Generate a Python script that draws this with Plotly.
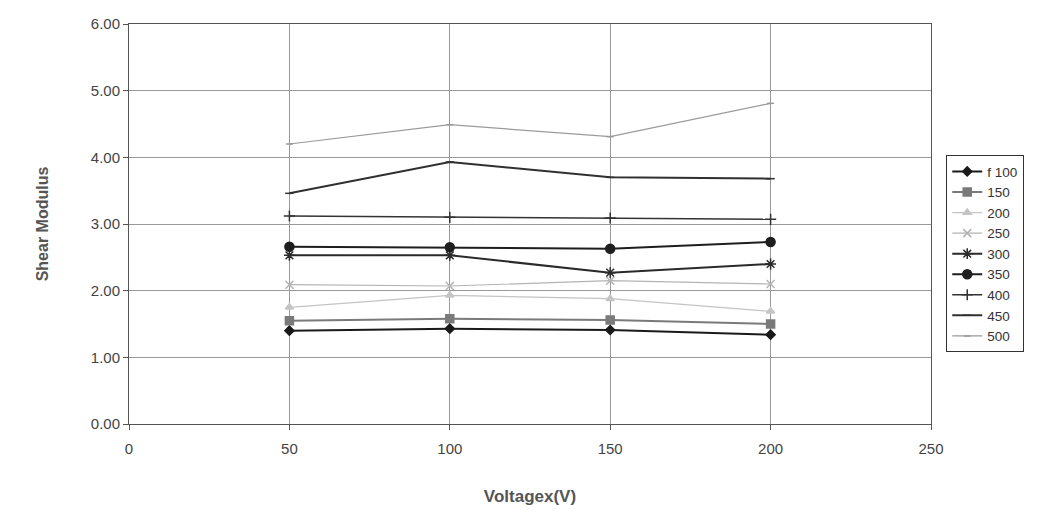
import plotly.graph_objects as go

voltage = [50, 100, 150, 200]
series_names = ["f 100", "150", "200", "250", "300", "350", "400", "450", "500"]
s100 = [1.40, 1.43, 1.41, 1.34]
s150 = [1.55, 1.58, 1.56, 1.50]
s200 = [1.75, 1.93, 1.88, 1.69]
s250 = [2.09, 2.07, 2.15, 2.10]
s300 = [2.53, 2.53, 2.27, 2.40]
s350 = [2.66, 2.65, 2.63, 2.73]
s400 = [3.12, 3.10, 3.09, 3.07]
s450 = [3.46, 3.93, 3.70, 3.68]
s500 = [4.20, 4.49, 4.31, 4.81]
values = [s100, s150, s200, s250, s300, s350, s400, s450, s500]

styles = [
    dict(color="#1a1a1a", symbol="diamond", size=7, width=2),
    dict(color="#7a7a7a", symbol="square", size=8, width=2),
    dict(color="#c4c4c4", symbol="triangle-up", size=7, width=1.2),
    dict(color="#b4b4b4", symbol="x-thin-open", size=8, width=1.2),
    dict(color="#2a2a2a", symbol="asterisk-open", size=9, width=2),
    dict(color="#1e1e1e", symbol="circle", size=9, width=2),
    dict(color="#333333", symbol="cross-thin-open", size=8, width=1.5),
    dict(color="#303030", symbol="line-ew-open", size=6, width=2),
    dict(color="#9a9a9a", symbol="line-ew-open", size=5, width=1.2),
]

fig = go.Figure()
for name, vals, st in zip(series_names, values, styles):
    fig.add_trace(go.Scatter(
        x=voltage, y=vals, name=name, mode="lines+markers",
        line=dict(color=st["color"], width=st["width"]),
        marker=dict(symbol=st["symbol"], size=st["size"], color=st["color"],
                    line=dict(color=st["color"], width=1.5)),
    ))

fig.update_layout(
    width=1041, height=524,
    margin=dict(l=129, r=110, t=24, b=100),
    paper_bgcolor="white", plot_bgcolor="white",
    font=dict(family="Liberation Sans, Arial, sans-serif", size=15, color="#444444"),
    showlegend=True,
    legend=dict(
        x=1.019, y=0.672, xanchor="left", yanchor="top",
        bordercolor="#333333", borderwidth=1, bgcolor="white",
        font=dict(size=13.5, color="#333333"),
        tracegroupgap=0, itemwidth=30,
    ),
    xaxis=dict(
        range=[0, 250], tickvals=[0, 50, 100, 150, 200, 250],
        showgrid=True, gridcolor="#999999", gridwidth=1,
        showline=True, linecolor="#555555", linewidth=1, mirror=True,
        ticks="outside", ticklen=5, tickcolor="#555555",
        ticklabelstandoff=6, tickfont=dict(size=15),
        zeroline=False,
        title=dict(text="<b>Voltagex(V)</b>", font=dict(size=17, color="#555555"), standoff=34),
    ),
    yaxis=dict(
        range=[0, 6], tickvals=[0, 1, 2, 3, 4, 5, 6], tickformat=".2f",
        showgrid=True, gridcolor="#999999", gridwidth=1,
        showline=True, linecolor="#555555", linewidth=1, mirror=True,
        ticks="outside", ticklen=5, tickcolor="#555555",
        tickfont=dict(size=15),
        zeroline=False,
        title=dict(text="<b>Shear Modulus</b>", font=dict(size=16, color="#555555"), standoff=38),
    ),
)

fig.write_html("out.html")
